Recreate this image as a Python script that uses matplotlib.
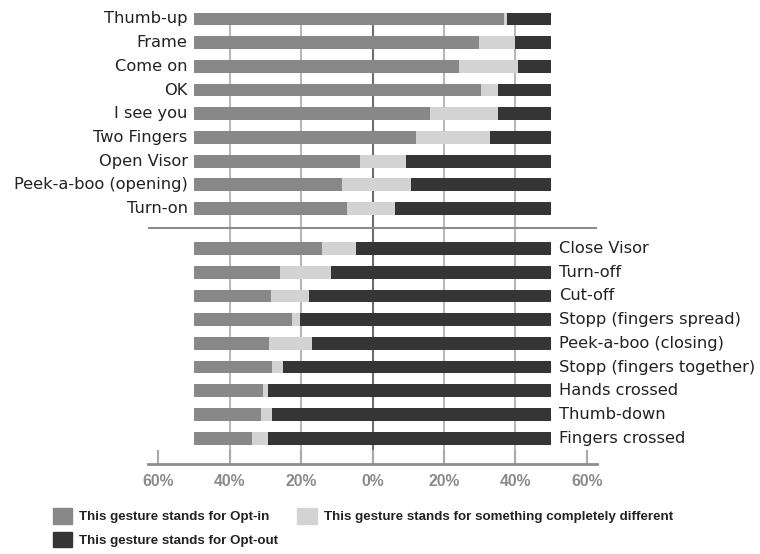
import numpy as np
import matplotlib
matplotlib.use("Agg")
import matplotlib.pyplot as plt
from matplotlib.patches import Patch
from matplotlib import font_manager

# ---------------- data ----------------
top_labels = ["Thumb-up", "Frame", "Come on", "OK", "I see you", "Two Fingers",
              "Open Visor", "Peek-a-boo (opening)", "Turn-on"]
top_optin = [86.7, 79.7, 74.1, 80.4, 66.1, 62.3, 46.5, 41.6, 43.0]
top_diff = [0.9, 10.3, 16.6, 4.8, 19.0, 20.6, 12.8, 19.1, 13.2]
top_optout = [12.4, 10.0, 9.3, 14.8, 14.9, 17.1, 40.7, 39.3, 43.8]

bot_labels = ["Close Visor", "Turn-off", "Cut-off", "Stopp (fingers spread)",
              "Peek-a-boo (closing)", "Stopp (fingers together)", "Hands crossed",
              "Thumb-down", "Fingers crossed"]
bot_optin = [35.9, 24.1, 21.7, 27.5, 21.1, 21.9, 19.5, 18.9, 16.2]
bot_diff = [9.6, 14.2, 10.6, 2.3, 11.9, 3.1, 1.4, 3.1, 4.7]
bot_optout = [54.5, 61.7, 67.7, 70.2, 67.0, 75.0, 79.1, 78.0, 79.1]

tick_values = [-60, -40, -20, 0, 20, 40, 60]
tick_labels = ["60%", "40%", "20%", "0%", "20%", "40%", "60%"]

legend_labels = ["This gesture stands for Opt-in",
                 "This gesture stands for Opt-out",
                 "This gesture stands for something completely different"]

# ---------------- style ----------------
C_IN = "#888888"
C_DIFF = "#d3d3d3"
C_OUT = "#353535"

names = {f.name for f in font_manager.fontManager.ttflist}
narrow = "Liberation Sans Narrow" in names
tick_family = "Liberation Sans Narrow" if narrow else "Liberation Sans"
tick_size = 12.5 if narrow else 11.3

W, H = 760, 554
fig = plt.figure(figsize=(W / 100, H / 100), dpi=100)
ax = fig.add_axes([148 / W, 1 - 464 / H, 449 / W, 464 / H])
ax.set_xlim(-62.8, 62.8)
ax.set_ylim(18.78, -0.8)

top_y = np.arange(len(top_labels), dtype=float)
bot_y = 9.69 + np.arange(len(bot_labels), dtype=float)

# grid lines
ax.vlines([-40, -20, 20, 40], -0.27, 18.78, color="#b8b8b8", lw=1.5, zorder=0)
ax.vlines([0], -0.27, 18.78, color="#6e6e6e", lw=1.5, zorder=0)

bh = 0.54
for ys, a, b, c in [(top_y, top_optin, top_diff, top_optout),
                    (bot_y, bot_optin, bot_diff, bot_optout)]:
    a = np.array(a); b = np.array(b); c = np.array(c)
    ax.barh(ys, a, left=-50, height=bh, color=C_IN, zorder=2)
    ax.barh(ys, b, left=-50 + a, height=bh, color=C_DIFF, zorder=2)
    ax.barh(ys, c, left=-50 + a + b, height=bh, color=C_OUT, zorder=2)

for y, lab in zip(top_y, top_labels):
    ax.text(-51.7, y, lab, ha="right", va="center", fontsize=11.7,
            color="#222222", family="DejaVu Sans")
for y, lab in zip(bot_y, bot_labels):
    ax.text(52.3, y, lab, ha="left", va="center", fontsize=11.7,
            color="#222222", family="DejaVu Sans")

# separator between groups
ax.axhline(8.82, color="#8c8c8c", lw=1.5, zorder=1)

# axes styling
for s in ["top", "left", "right"]:
    ax.spines[s].set_visible(False)
ax.spines["bottom"].set_color("#8c8c8c")
ax.spines["bottom"].set_linewidth(2)
ax.set_yticks([])
ax.set_xticks(tick_values)
ax.set_xticklabels(tick_labels, fontsize=tick_size, fontweight="bold",
                   color="#8a8a8a", family=tick_family)
ax.tick_params(axis="x", direction="in", length=10, width=1.5,
               color="#aaaaaa", pad=7.5)

handles = [Patch(color=C_IN), Patch(color=C_OUT), Patch(color=C_DIFF)]
fig.legend(handles, legend_labels, ncol=2, loc="upper left",
           bbox_to_anchor=(53 / W, 1 - 508 / H), frameon=False,
           borderpad=0, borderaxespad=0, handlelength=1.44, handleheight=1.44,
           handletextpad=0.53, columnspacing=1.44, labelspacing=0.6,
           prop={"family": "Liberation Sans", "weight": "bold", "size": 9.6},
           labelcolor="#222222")

fig.savefig("out.png", dpi=100)
